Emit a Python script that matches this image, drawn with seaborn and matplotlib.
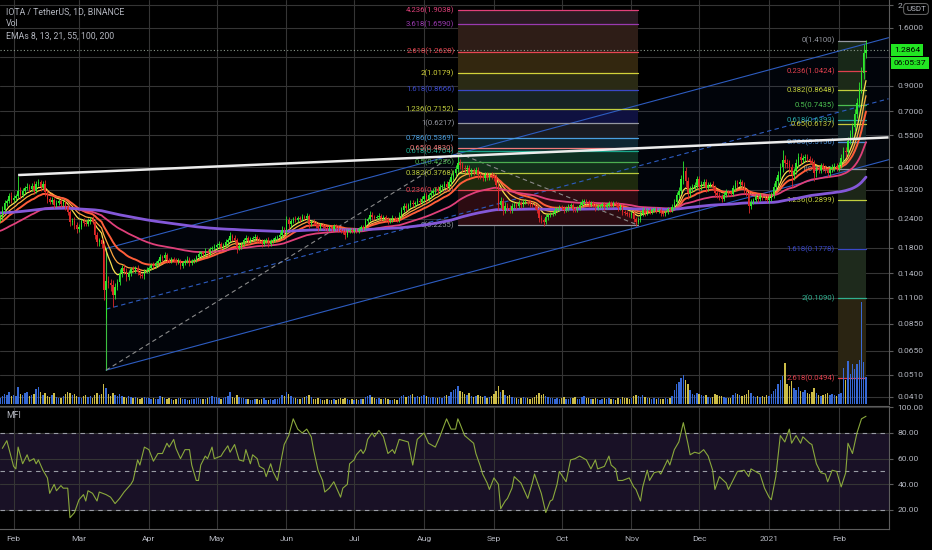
import numpy as np
import pandas as pd
import matplotlib
matplotlib.use("Agg")
import matplotlib.pyplot as plt
import matplotlib.transforms as mtransforms
from matplotlib.ticker import NullLocator
import seaborn as sns

# ---------------------------------------------------------------- data
start_date = "2020-01-26"
first_open = 0.238
last_countdown = "06:05:37"

close_2020_01 = [0.245, 0.262, 0.281, 0.287, 0.300, 0.290]
close_2020_02 = [0.296, 0.300, 0.318, 0.305, 0.318, 0.325, 0.330, 0.322, 0.332, 0.318, 0.340, 0.345, 0.330, 0.340, 0.312,
                 0.292, 0.285, 0.290, 0.276, 0.280, 0.286, 0.279, 0.284, 0.270, 0.258, 0.232, 0.236, 0.225, 0.218]
close_2020_03 = [0.222, 0.235, 0.230, 0.228, 0.236, 0.240, 0.232, 0.205, 0.190, 0.195, 0.188, 0.118, 0.130, 0.127, 0.125,
                 0.113, 0.122, 0.128, 0.140, 0.148, 0.143, 0.135, 0.140, 0.146, 0.145, 0.148, 0.142, 0.138, 0.136, 0.143, 0.145]
close_2020_04 = [0.148, 0.152, 0.150, 0.155, 0.158, 0.165, 0.163, 0.168, 0.160, 0.158, 0.162, 0.160, 0.156, 0.158, 0.150,
                 0.155, 0.158, 0.161, 0.155, 0.158, 0.160, 0.165, 0.170, 0.172, 0.170, 0.175, 0.172, 0.178, 0.180, 0.182]
close_2020_05 = [0.185, 0.188, 0.182, 0.186, 0.190, 0.195, 0.203, 0.198, 0.195, 0.180, 0.183, 0.188, 0.195, 0.198, 0.193,
                 0.196, 0.198, 0.200, 0.196, 0.192, 0.188, 0.192, 0.194, 0.188, 0.192, 0.194, 0.198, 0.200, 0.204, 0.215, 0.212]
close_2020_06 = [0.238, 0.228, 0.236, 0.240, 0.238, 0.242, 0.240, 0.245, 0.243, 0.248, 0.228, 0.232, 0.230, 0.226, 0.220,
                 0.226, 0.222, 0.220, 0.218, 0.221, 0.218, 0.224, 0.222, 0.215, 0.213, 0.210, 0.205, 0.212, 0.215, 0.213]
close_2020_07 = [0.215, 0.213, 0.218, 0.222, 0.220, 0.235, 0.240, 0.250, 0.245, 0.242, 0.244, 0.248, 0.242, 0.245, 0.240,
                 0.236, 0.238, 0.242, 0.240, 0.238, 0.250, 0.262, 0.272, 0.268, 0.276, 0.282, 0.278, 0.280, 0.288, 0.285, 0.292]
close_2020_08 = [0.300, 0.292, 0.305, 0.310, 0.318, 0.322, 0.316, 0.328, 0.332, 0.340, 0.330, 0.345, 0.365, 0.380, 0.395,
                 0.420, 0.410, 0.398, 0.392, 0.398, 0.380, 0.388, 0.384, 0.390, 0.372, 0.368, 0.362, 0.370, 0.365, 0.372, 0.366]
close_2020_09 = [0.362, 0.335, 0.275, 0.288, 0.262, 0.272, 0.268, 0.262, 0.272, 0.276, 0.274, 0.280, 0.276, 0.283, 0.285,
                 0.282, 0.278, 0.276, 0.272, 0.262, 0.242, 0.238, 0.232, 0.245, 0.250, 0.252, 0.255, 0.262, 0.266, 0.270]
close_2020_10 = [0.268, 0.262, 0.265, 0.272, 0.275, 0.266, 0.262, 0.268, 0.275, 0.285, 0.288, 0.284, 0.278, 0.282, 0.276,
                 0.268, 0.272, 0.274, 0.278, 0.270, 0.276, 0.280, 0.276, 0.280, 0.278, 0.268, 0.272, 0.258, 0.255, 0.252, 0.250]
close_2020_11 = [0.254, 0.240, 0.232, 0.238, 0.252, 0.262, 0.255, 0.262, 0.258, 0.262, 0.265, 0.260, 0.262, 0.255, 0.252,
                 0.258, 0.265, 0.262, 0.270, 0.285, 0.305, 0.318, 0.355, 0.385, 0.350, 0.310, 0.322, 0.330, 0.335, 0.355]
close_2020_12 = [0.330, 0.340, 0.345, 0.325, 0.335, 0.338, 0.330, 0.310, 0.305, 0.300, 0.292, 0.305, 0.315, 0.312, 0.308,
                 0.325, 0.342, 0.338, 0.345, 0.335, 0.318, 0.310, 0.272, 0.285, 0.290, 0.298, 0.292, 0.300, 0.296, 0.295, 0.290]
close_2021_01 = [0.295, 0.305, 0.330, 0.350, 0.370, 0.400, 0.430, 0.420, 0.415, 0.400, 0.370, 0.385, 0.420, 0.445, 0.430,
                 0.440, 0.445, 0.435, 0.425, 0.420, 0.380, 0.395, 0.390, 0.405, 0.398, 0.392, 0.380, 0.395, 0.400, 0.405, 0.398]
close_2021_02 = [0.410, 0.440, 0.470, 0.465, 0.520, 0.560, 0.600, 0.680, 0.760, 0.880, 1.020, 1.250, 1.2864]

# upper / lower wick length, percent of the candle body edge
up_2020_01 = [3, 4, 3, 2, 3, 4]
dn_2020_01 = [2, 3, 2, 3, 2, 3]
up_2020_02 = [3, 2, 16, 4, 3, 2, 4, 3, 3, 5, 3, 3, 2, 3, 4, 3, 2, 3, 2, 3, 2, 3, 2, 2, 3, 2, 3, 4, 3]
dn_2020_02 = [2, 3, 2, 4, 2, 3, 2, 3, 2, 3, 2, 2, 4, 2, 3, 4, 2, 2, 3, 2, 2, 3, 2, 3, 3, 4, 3, 3, 4]
up_2020_03 = [3, 2, 3, 2, 3, 2, 3, 2, 3, 2, 2, 3, 6, 5, 4, 5, 4, 3, 4, 3, 4, 3, 3, 2, 3, 2, 3, 3, 2, 2, 3]
dn_2020_03 = [3, 2, 3, 2, 2, 3, 2, 4, 3, 3, 4, 9, 24, 5, 6, 11, 4, 3, 3, 4, 3, 4, 3, 3, 2, 3, 3, 3, 2, 3, 2]
up_2020_04 = [2, 2, 3, 2, 2, 3, 2, 3, 2, 2, 2, 2, 2, 3, 2, 2, 2, 3, 2, 2, 2, 2, 3, 2, 2, 3, 2, 2, 2, 3]
dn_2020_04 = [3, 2, 2, 2, 3, 2, 3, 2, 3, 2, 2, 2, 3, 2, 3, 2, 2, 2, 3, 2, 2, 2, 2, 3, 2, 2, 3, 2, 2, 2]
up_2020_05 = [2, 3, 2, 2, 3, 2, 4, 2, 3, 2, 3, 2, 2, 3, 2, 2, 2, 3, 2, 2, 2, 2, 2, 3, 2, 2, 2, 2, 3, 4, 3]
dn_2020_05 = [3, 2, 3, 2, 2, 3, 2, 3, 2, 5, 2, 3, 2, 2, 3, 2, 2, 2, 3, 2, 3, 2, 2, 3, 2, 2, 2, 2, 2, 3, 3]
up_2020_06 = [4, 3, 2, 2, 3, 2, 2, 3, 2, 3, 2, 2, 3, 2, 2, 2, 2, 3, 2, 2, 2, 2, 2, 2, 2, 2, 3, 2, 2, 2]
dn_2020_06 = [3, 5, 3, 2, 2, 2, 3, 2, 2, 2, 4, 2, 2, 3, 3, 2, 2, 2, 2, 2, 2, 2, 3, 2, 2, 2, 4, 2, 2, 2]
up_2020_07 = [2, 2, 2, 2, 2, 3, 2, 4, 3, 2, 2, 3, 2, 2, 2, 2, 2, 3, 2, 2, 3, 3, 3, 3, 2, 3, 3, 2, 3, 3, 3]
dn_2020_07 = [2, 2, 2, 2, 2, 2, 3, 2, 3, 2, 2, 2, 3, 2, 2, 3, 2, 2, 2, 2, 2, 3, 2, 3, 2, 2, 3, 3, 2, 3, 2]
up_2020_08 = [3, 3, 2, 3, 3, 2, 3, 3, 2, 3, 3, 3, 4, 3, 4, 9, 4, 3, 3, 3, 3, 3, 3, 3, 3, 3, 2, 3, 3, 2, 3]
dn_2020_08 = [3, 4, 2, 3, 2, 3, 3, 2, 3, 3, 4, 2, 3, 3, 3, 3, 4, 4, 3, 3, 4, 3, 3, 2, 4, 3, 3, 3, 3, 3, 3]
up_2020_09 = [3, 4, 3, 4, 3, 4, 3, 3, 3, 3, 2, 3, 2, 3, 3, 2, 3, 2, 2, 2, 2, 3, 2, 3, 2, 2, 2, 3, 2, 2]
dn_2020_09 = [3, 4, 5, 3, 5, 3, 3, 3, 3, 2, 3, 2, 3, 2, 2, 2, 3, 2, 3, 3, 4, 3, 4, 2, 3, 2, 2, 2, 2, 2]
up_2020_10 = [2, 2, 3, 2, 2, 2, 2, 2, 3, 3, 2, 2, 2, 2, 2, 2, 2, 2, 2, 2, 2, 2, 2, 2, 2, 2, 2, 2, 2, 2, 2]
dn_2020_10 = [2, 3, 2, 2, 2, 3, 2, 2, 2, 2, 2, 2, 3, 2, 2, 3, 2, 2, 2, 3, 2, 2, 2, 2, 2, 3, 2, 3, 2, 2, 2]
up_2020_11 = [2, 2, 2, 3, 3, 3, 2, 2, 2, 2, 2, 2, 2, 2, 2, 2, 2, 2, 3, 3, 3, 4, 5, 11, 4, 4, 3, 3, 3, 4]
dn_2020_11 = [3, 3, 4, 2, 2, 2, 3, 2, 2, 2, 2, 2, 2, 3, 2, 2, 2, 2, 2, 2, 3, 3, 3, 4, 6, 6, 4, 3, 3, 3]
up_2020_12 = [4, 3, 3, 3, 3, 2, 3, 2, 2, 3, 2, 3, 3, 2, 2, 3, 3, 3, 3, 2, 3, 2, 3, 3, 2, 3, 2, 3, 2, 2, 3]
dn_2020_12 = [4, 3, 3, 4, 3, 2, 3, 4, 3, 3, 3, 2, 2, 3, 2, 2, 3, 3, 2, 3, 3, 3, 6, 3, 2, 2, 3, 2, 2, 2, 2]
up_2021_01 = [3, 3, 4, 4, 4, 5, 11, 5, 4, 4, 4, 3, 4, 4, 4, 3, 3, 3, 3, 3, 3, 3, 3, 3, 3, 3, 2, 3, 3, 3, 3]
dn_2021_01 = [3, 3, 3, 3, 4, 4, 4, 5, 4, 5, 11, 5, 3, 4, 4, 3, 3, 3, 3, 4, 8, 4, 3, 3, 3, 3, 4, 3, 3, 3, 3]
up_2021_02 = [3, 4, 4, 4, 4, 4, 4, 5, 5, 6, 6, 9, 10]
dn_2021_02 = [3, 3, 3, 5, 3, 3, 3, 4, 4, 4, 5, 6, 5]

# daily volume (relative units)
vol_2020_01 = [6, 8, 10, 9, 12, 8]
vol_2020_02 = [9, 8, 17, 10, 9, 11, 12, 8, 9, 10, 15, 17, 12, 9, 11, 8, 7, 9, 11, 7, 6, 6, 8, 10, 12, 11, 9, 10, 8]
vol_2020_03 = [7, 6, 8, 9, 7, 8, 6, 9, 11, 9, 10, 20, 16, 10, 8, 11, 9, 8, 10, 8, 7, 6, 8, 7, 6, 7, 6, 5, 6, 7, 6]
vol_2020_04 = [6, 5, 6, 5, 5, 8, 7, 6, 5, 6, 5, 4, 5, 6, 6, 5, 5, 4, 4, 5, 5, 6, 6, 5, 5, 5, 6, 7, 8, 7]
vol_2020_05 = [7, 6, 5, 6, 7, 8, 12, 7, 6, 9, 7, 6, 6, 5, 5, 4, 4, 5, 5, 4, 5, 6, 4, 4, 5, 4, 5, 5, 6, 9, 8]
vol_2020_06 = [12, 10, 8, 6, 6, 5, 5, 6, 7, 8, 9, 7, 5, 5, 6, 5, 4, 4, 5, 4, 4, 5, 4, 5, 6, 5, 6, 5, 4, 5]
vol_2020_07 = [4, 5, 4, 5, 5, 7, 8, 9, 7, 6, 5, 6, 5, 5, 6, 5, 4, 4, 5, 4, 6, 8, 9, 7, 8, 9, 10, 7, 8, 7, 8]
vol_2020_08 = [9, 8, 7, 6, 7, 6, 6, 7, 6, 8, 9, 8, 12, 14, 15, 18, 13, 12, 10, 9, 11, 8, 7, 8, 9, 8, 7, 8, 6, 7, 8]
vol_2020_09 = [10, 13, 18, 12, 14, 9, 8, 9, 7, 6, 6, 5, 6, 7, 6, 6, 5, 6, 7, 9, 11, 9, 10, 8, 7, 6, 6, 5, 6, 5]
vol_2020_10 = [6, 7, 5, 5, 6, 6, 7, 5, 5, 7, 8, 6, 6, 5, 5, 6, 5, 4, 5, 6, 5, 6, 5, 5, 4, 6, 5, 7, 6, 6, 5]
vol_2020_11 = [6, 8, 9, 8, 7, 9, 7, 6, 6, 5, 6, 5, 6, 5, 5, 6, 5, 6, 8, 14, 20, 22, 26, 29, 24, 20, 14, 10, 9, 11]
vol_2020_12 = [10, 9, 8, 9, 7, 6, 7, 10, 9, 8, 8, 7, 6, 6, 6, 9, 11, 10, 9, 8, 9, 10, 14, 11, 8, 7, 8, 7, 8, 7, 9]
vol_2021_01 = [8, 10, 13, 15, 20, 24, 28, 41, 20, 18, 23, 16, 14, 17, 13, 12, 14, 11, 10, 12, 16, 11, 9, 8, 9, 10, 11, 9, 10, 9, 8]
vol_2021_02 = [10, 11, 36, 24, 43, 30, 40, 35, 40, 44, 102, 42, 27]

# Money Flow Index, (day since start, value)
mfi_day = [1, 3, 6, 7, 8, 10, 12, 13, 15, 16, 17, 19, 21, 22, 24, 25, 27, 28, 30, 31, 33, 35, 37, 38, 39, 41, 43, 44, 47, 49,
           51, 53, 55, 58, 59, 61, 62, 64, 66, 68, 70, 72, 74, 75, 77, 78, 80, 82, 84, 85, 87, 88, 89, 91, 92, 94, 95, 98, 99, 101,
           102, 104, 106, 108, 109, 111, 112, 114, 115, 117, 118, 120, 121, 123, 125, 126, 128, 130, 132, 134,
           136, 138, 139, 141, 143, 144, 146, 148, 149, 151, 152, 154, 155, 157, 158, 160, 161, 162, 163, 165,
           166, 168, 170, 172, 174, 175, 177, 181, 183, 185, 188, 190, 193, 195, 198, 200, 202, 203, 204, 206,
           208, 210, 211, 213, 214, 216, 217, 219, 221, 222, 224, 225, 227, 228, 231, 232, 234, 236, 237, 239,
           240, 242, 244, 245, 247, 248, 251, 253, 255, 257, 260, 262, 264, 265, 268, 270, 271, 273, 274, 276,
           279, 281, 282, 284, 285, 287, 288, 290, 292, 293, 296, 297, 299, 301, 303, 305, 306, 308, 310, 312,
           314, 316, 317, 319, 322, 323, 325, 327, 330, 332, 333, 336, 337, 339, 341, 342, 344, 346, 348, 350,
           351, 353, 355, 356, 359, 360, 362, 364, 366, 367, 369, 371, 373, 375, 376, 378, 380, 382, 384]
mfi_val = [68, 74, 54, 52, 69, 56, 63, 58, 60, 56, 59, 51, 45, 33, 40, 35, 39, 37, 37, 14, 18, 28, 32, 27, 35, 33, 27, 34, 32, 30,
           25, 29, 34, 40, 43, 59, 55, 69, 67, 58, 64, 64, 72, 69, 75, 68, 60, 67, 67, 55, 43, 43, 55, 62, 60, 69, 60, 62, 65, 70,
           65, 71, 59, 58, 67, 56, 63, 60, 54, 52, 46, 56, 50, 43, 62, 71, 78, 91, 83, 80,
           83, 77, 67, 51, 43, 34, 37, 42, 38, 30, 37, 40, 56, 59, 63, 67, 64, 67, 75, 80,
           77, 82, 77, 64, 67, 64, 75, 73, 55, 75, 80, 72, 69, 77, 91, 83, 83, 91, 87, 78,
           75, 72, 64, 54, 48, 41, 36, 45, 40, 21, 27, 29, 37, 46, 41, 37, 29, 41, 48, 38,
           33, 18, 27, 28, 40, 50, 42, 59, 60, 62, 59, 52, 59, 52, 54, 62, 55, 52, 43, 43,
           45, 38, 36, 27, 38, 51, 43, 49, 50, 48, 59, 55, 67, 73, 88, 72, 63, 65, 64, 67,
           62, 51, 36, 46, 41, 36, 43, 50, 51, 46, 52, 49, 48, 37, 30, 28, 46, 78, 73, 83,
           72, 78, 72, 77, 72, 71, 56, 49, 48, 42, 51, 50, 38, 49, 72, 64, 80, 91, 93]

# EMAs drawn (periods) and their values on the first day
ema_periods = [8, 13, 21, 55, 200]
ema_seeds = [0.245, 0.238, 0.230, 0.212, 0.255]

# fibonacci drawings
fib_left_dates = ["2020-08-16", "2020-11-04"]
fib_left_levels = [0, 0.236, 0.382, 0.5, 0.618, 0.65, 0.786, 1, 1.236, 1.618, 2, 2.618, 3.618, 4.236]
fib_left_zero, fib_left_one = 0.2255, 0.6217            # linear
fib_right_dates = ["2021-02-01", "2021-02-13"]
fib_right_levels = [0, 0.236, 0.382, 0.5, 0.618, 0.65, 0.786, 1, 1.236, 1.618, 2, 2.618]
fib_right_zero, fib_right_one = 1.41, 0.3921            # logarithmic

# trend lines / channel anchors (date, price)
resist_dates, resist_prices = ["2020-02-03", "2021-02-23"], [0.371, 0.539]
chan_dates = ["2020-03-13", "2021-02-23"]
chan_low_prices = [0.0535, 0.432]
chan_mid_prices = [0.098, 0.791]
chan_up_prices = [0.179, 1.45]
handle_dates, handle_prices = ["2020-03-13", "2020-08-16"], [0.0535, 0.462]
retrace_dates, retrace_prices = ["2020-08-16", "2020-11-04"], [0.462, 0.2255]

price_ticks = [2.0, 1.6, 1.2, 0.9, 0.7, 0.55, 0.4, 0.32, 0.24, 0.18, 0.14, 0.11, 0.085, 0.065, 0.051, 0.041]
mfi_ticks = [20, 40, 60, 80, 100]

# ---------------------------------------------------------------- prep
closes = np.array(close_2020_01 + close_2020_02 + close_2020_03 + close_2020_04 + close_2020_05 + close_2020_06 +
                  close_2020_07 + close_2020_08 + close_2020_09 + close_2020_10 + close_2020_11 + close_2020_12 +
                  close_2021_01 + close_2021_02)
ups = np.array(up_2020_01 + up_2020_02 + up_2020_03 + up_2020_04 + up_2020_05 + up_2020_06 + up_2020_07 +
               up_2020_08 + up_2020_09 + up_2020_10 + up_2020_11 + up_2020_12 + up_2021_01 + up_2021_02) / 100.0
dns = np.array(dn_2020_01 + dn_2020_02 + dn_2020_03 + dn_2020_04 + dn_2020_05 + dn_2020_06 + dn_2020_07 +
               dn_2020_08 + dn_2020_09 + dn_2020_10 + dn_2020_11 + dn_2020_12 + dn_2021_01 + dn_2021_02) / 100.0
vols = np.array(vol_2020_01 + vol_2020_02 + vol_2020_03 + vol_2020_04 + vol_2020_05 + vol_2020_06 + vol_2020_07 +
                vol_2020_08 + vol_2020_09 + vol_2020_10 + vol_2020_11 + vol_2020_12 + vol_2021_01 + vol_2021_02, float)
n = len(closes)
assert len(ups) == n and len(dns) == n and len(vols) == n, (n, len(ups), len(dns), len(vols))
days = np.arange(n)
opens = np.concatenate([[first_open], closes[:-1]])
highs = np.maximum(opens, closes) * (1 + ups)
lows = np.minimum(opens, closes) * (1 - dns)
t0 = pd.Timestamp(start_date)


def dnum(d):
    return (pd.Timestamp(d) - t0).days


def ema(values, period, seed):
    a = 2.0 / (period + 1)
    out, e = [], seed
    for v in values:
        e = e + a * (v - e)
        out.append(e)
    return np.array(out)


# ---------------------------------------------------------------- style
sns.set_theme(style="dark")
plt.rcParams["font.family"] = ["Roboto", "DejaVu Sans"]
BG = "#000000"
TXT = "#b2b5be"
GRID = "#353535"
AXL = "#5c5c5c"
UP, DOWN = "#2ee82e", "#e02828"
W, H = 932, 550
XLIM = (-0.03, 394.2)

fig = plt.figure(figsize=(9.32, 5.5), dpi=100)
fig.patch.set_facecolor(BG)


def frame(x0, y0, x1, y1):
    return [x0 / W, 1 - y1 / H, (x1 - x0) / W, (y1 - y0) / H]


ax = fig.add_axes(frame(0, 0, 889, 404), zorder=1)
ax_v = fig.add_axes(frame(0, 0, 889, 404), zorder=2)
ax_m = fig.add_axes(frame(0, 406, 889, 529), zorder=1)

# ---------------------------------------------------------------- volume (overlay at the bottom of the price pane)
vcol = np.where(closes >= opens, "#3a6ee0", "#d8c74c")
ax_v.bar(days, vols, width=0.62, color=vcol, lw=0, alpha=0.95)
ax_v.set_xlim(*XLIM)
ax_v.set_ylim(0, vols.max() * 404 / 102)
ax_v.axis("off")
ax_v.patch.set_alpha(0)

# ---------------------------------------------------------------- main panel
ax.set_facecolor(BG)
ax.set_yscale("log")
ax.set_xlim(*XLIM)
ax.set_ylim(0.03824, 2.108)
month_starts = pd.date_range("2020-02-01", "2021-02-01", freq="MS")
month_days = [dnum(m) for m in month_starts]
month_labels = ["2021" if m.month == 1 else m.strftime("%b") for m in month_starts]
ax.set_xticks(month_days)
ax.set_xticklabels([])
ax.yaxis.tick_right()
ax.set_yticks(price_ticks)
ax.set_yticklabels(["" if v == 1.2 else f"{v:.4f}" for v in price_ticks])
ax.yaxis.set_minor_locator(NullLocator())
ax.tick_params(axis="y", colors=AXL, labelcolor=TXT, labelsize=6.1, length=3, width=0.8, pad=3)
ax.tick_params(axis="x", length=0)
ax.grid(True, color=GRID, lw=0.8)
ax.set_axisbelow(True)
for s in ["top", "left", "bottom"]:
    ax.spines[s].set_visible(False)
ax.spines["right"].set_color(AXL)
ax.spines["right"].set_linewidth(0.8)

# channel fill + lines
cd = [dnum(d) for d in chan_dates]
gx = np.linspace(cd[0], cd[1], 200)
lo_line = 10 ** np.interp(gx, cd, np.log10(chan_low_prices))
up_line = 10 ** np.interp(gx, cd, np.log10(chan_up_prices))
ax.fill_between(gx, lo_line, up_line, color="#2050d0", alpha=0.05, lw=0, zorder=1)
ax.plot(cd, chan_low_prices, color="#2d5cc0", lw=0.8, zorder=2)
ax.plot(cd, chan_up_prices, color="#2d5cc0", lw=0.8, zorder=2)
ax.plot(cd, chan_mid_prices, color="#2d5cc0", lw=0.8, ls=(0, (4, 3)), zorder=2)
ax.plot([dnum(chan_dates[0])] * 2, [chan_low_prices[0], chan_up_prices[0]], color="#3cc040", lw=0.8, zorder=2)
ax.plot([dnum(d) for d in handle_dates], handle_prices, color="#8a8a8a", lw=0.8, ls=(0, (4, 3)), zorder=2)
ax.plot([dnum(d) for d in retrace_dates], retrace_prices, color="#8a8a8a", lw=0.8, ls=(0, (4, 3)), zorder=2)

# fib retracement (left, linear)
L0, L1 = dnum(fib_left_dates[0]), dnum(fib_left_dates[1])
left_cols = ["#9598a1", "#e0404e", "#b9c93c", "#4caf50", "#1aa88c", "#f07a7a", "#4a9fe0", "#9598a1",
             "#c2cf3e", "#3a48c8", "#d2d23a", "#e84652", "#9a3ab0", "#e0407a"]
left_bands = ["#2c0c12", "#1e2a0e", "#13301a", "#0e3022", "#0e2c2a", "#0e2632", "#1a1b22", "#0f1140",
              "#182424", "#2a2a14", "#33270f", "#2e1d17", "#2a1a22"]
lp = [fib_left_zero + l * (fib_left_one - fib_left_zero) for l in fib_left_levels]
for i in range(len(lp) - 1):
    ax.fill_between([L0, L1], lp[i], lp[i + 1], color=left_bands[i], lw=0, zorder=1)
for l, p, c in zip(fib_left_levels, lp, left_cols):
    ax.plot([L0, L1], [p, p], color=c, lw=0.9, zorder=2)
    ax.annotate(f"{l:g}({p:.4f})", xy=(L0, p), xytext=(-2.5, 0), textcoords="offset points",
                ha="right", va="center", fontsize=5.6, color=c, zorder=2, annotation_clip=False)

# fib extension (right, log)
R0, R1 = dnum(fib_right_dates[0]) - 0.3, dnum(fib_right_dates[1]) + 0.2
right_cols = ["#9598a1", "#e0404e", "#c2cf3e", "#4cbf50", "#2aa8a8", "#c8c83a", "#4a90d8", "#9598a1",
              "#c2cf3e", "#3a48c8", "#30b090", "#e0404e"]
right_bands = ["#182818", "#1c2a18", "#15301a", "#112e20", "#112a26", "#122628", "#1a201e", "#1c2618",
               "#182422", "#1e2a1c", "#2a2412"]
lz, lo1 = np.log10(fib_right_zero), np.log10(fib_right_one)
rp = [10 ** (lz + l * (lo1 - lz)) for l in fib_right_levels]
for i in range(len(rp) - 1):
    ax.fill_between([R0, R1], rp[i + 1], rp[i], color=right_bands[i], lw=0, zorder=1)
for l, p, c in zip(fib_right_levels, rp, right_cols):
    ax.plot([R0, R1], [p, p], color=c, lw=0.9, zorder=2)
    ax.annotate(f"{l:g}({p:.4f})", xy=(R0, p), xytext=(-2.5, 0), textcoords="offset points",
                ha="right", va="center", fontsize=5.6, color=c, zorder=2, annotation_clip=False)

# EMAs
ema_cols = ["#f8e050", "#ffa640", "#ff5e3a", "#e0407a", "#8458d8"]
ema_lws = [0.9, 0.9, 1.4, 1.3, 2.0]
for per, seed, c, lw in zip(ema_periods, ema_seeds, ema_cols, ema_lws):
    sns.lineplot(x=days, y=ema(closes, per, seed), ax=ax, color=c, lw=lw, zorder=4,
                 estimator=None, legend=False)

# candles
ccol = np.where(closes >= opens, UP, DOWN)
body_lo = np.minimum(opens, closes)
body_h = np.maximum(np.abs(closes - opens), body_lo * 0.004)
ax.vlines(days, lows, highs, colors=ccol, lw=0.6, zorder=5)
ax.bar(days, body_h, bottom=body_lo, width=0.62, color=ccol, lw=0, zorder=5)

# resistance line
ax.plot([dnum(d) for d in resist_dates], resist_prices, color="#ececec", lw=1.8, zorder=6,
        solid_capstyle="butt")

# last price line + labels
last = closes[-1]
ax.axhline(last, color="#8c9a8c", lw=0.8, ls=(0, (1, 2)), zorder=3)
trans = mtransforms.blended_transform_factory(ax.transAxes, ax.transData)
ax.annotate(f"{last:.4f}", xy=(1, last), xycoords=trans, xytext=(3.5, 0), textcoords="offset points",
            ha="left", va="center", fontsize=6.1, color="#000000", zorder=10, annotation_clip=False,
            bbox=dict(boxstyle="square,pad=0.35", fc="#22e622", ec="none"))
ax.annotate(last_countdown, xy=(1, last), xycoords=trans, xytext=(3.5, -9.6), textcoords="offset points",
            ha="left", va="center", fontsize=6.1, color="#000000", zorder=10, annotation_clip=False,
            bbox=dict(boxstyle="square,pad=0.35", fc="#22e622", ec="none"))
fig.text(916 / W, 1 - 9 / H, "USDT", ha="center", va="center", fontsize=5.8, color=TXT, zorder=20,
         bbox=dict(boxstyle="round,pad=0.3,rounding_size=0.4", fc=BG, ec="#6a6a6a", lw=0.7))

# header texts
fig.text(6 / W, 1 - 12 / H, "IOTA / TetherUS, 1D, BINANCE", ha="left", va="center", fontsize=6.3, color=TXT)
fig.text(6 / W, 1 - 24 / H, "Vol", ha="left", va="center", fontsize=6.3, color=TXT)
fig.text(6 / W, 1 - 36 / H, "EMAs 8, 13, 21, 55, 100, 200", ha="left", va="center", fontsize=6.3, color=TXT)

# ---------------------------------------------------------------- MFI panel
ax_m.set_facecolor(BG)
ax_m.set_xlim(*XLIM)
ax_m.set_ylim(5.2, 101)
ax_m.axhspan(20, 80, color="#7e57c2", alpha=0.2, lw=0, zorder=0.5)
for lvl in [80, 50, 20]:
    ax_m.axhline(lvl, color="#9a9da6", lw=0.8, ls=(0, (4, 4)), zorder=1)
sns.lineplot(x=mfi_day, y=mfi_val, ax=ax_m, color="#8aa83c", lw=0.8, zorder=3, estimator=None, legend=False)
ax_m.set_xticks(month_days)
ax_m.set_xticklabels(month_labels)
ax_m.yaxis.tick_right()
ax_m.set_yticks(mfi_ticks)
ax_m.set_yticklabels([f"{v:.2f}" for v in mfi_ticks])
ax_m.tick_params(axis="y", colors=AXL, labelcolor=TXT, labelsize=6.1, length=3, width=0.8, pad=3)
ax_m.tick_params(axis="x", colors=AXL, labelcolor=TXT, labelsize=6.1, length=0, pad=5)
ax_m.grid(True, color=GRID, lw=0.8)
ax_m.set_axisbelow(True)
ax_m.set_xlabel("")
ax_m.set_ylabel("")
ax.set_xlabel("")
ax.set_ylabel("")
ax_m.spines["left"].set_visible(False)
for s in ["right", "bottom", "top"]:
    ax_m.spines[s].set_color(AXL)
    ax_m.spines[s].set_linewidth(0.8)
ax_m.text(6 / 889, 0.92, "MFI", transform=ax_m.transAxes, ha="left", va="center", fontsize=6.3, color=TXT)

fig.savefig("out.png", dpi=100, facecolor=BG)
